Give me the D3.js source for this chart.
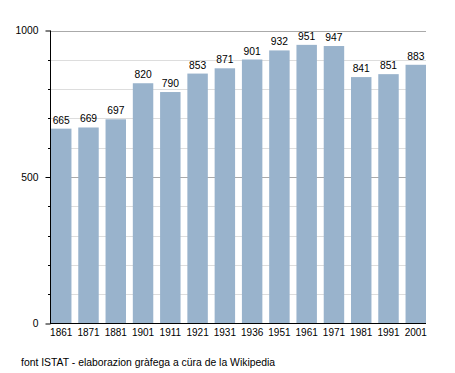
<!DOCTYPE html>
<html><head><meta charset="utf-8">
<script src="https://cdn.jsdelivr.net/npm/d3@7"></script>
<style>body{margin:0;background:#fff}svg{display:block}text{font-family:"Liberation Sans",Arial,sans-serif;font-size:10px;fill:#000}</style>
</head><body><svg id="c" width="455" height="373"></svg>
<script>
const categories = ["1861","1871","1881","1901","1911","1921","1931","1936","1951","1961","1971","1981","1991","2001"];
const values = [665,669,697,820,790,853,871,901,932,951,947,841,851,883];
const yMajorTicks = [0,500,1000];
const yMinorTicks = [100,200,300,400,600,700,800,900];
const footer = "font ISTAT - elaborazion gràfega a cüra de la Wikipedia";

const FONT = "'Liberation Sans',Arial,sans-serif";
const svg = d3.select("#c");
const x = d3.scaleBand().domain(categories).range([51,426]).paddingInner(0.25).paddingOuter(0);
const y = d3.scaleLinear().domain([0,1000]).range([323.5,30.5]);

// grid
svg.append("g").selectAll("line").data(yMinorTicks).join("line")
  .attr("x1",50).attr("x2",426).attr("y1",d=>Math.round(y(d))+0.5).attr("y2",d=>Math.round(y(d))+0.5)
  .attr("stroke","#dddddd").attr("stroke-width",1);
svg.append("g").selectAll("line").data([500,1000]).join("line")
  .attr("x1",50).attr("x2",426).attr("y1",d=>Math.round(y(d))+0.5).attr("y2",d=>Math.round(y(d))+0.5)
  .attr("stroke","#aaaaaa").attr("stroke-width",1);

// bars
svg.append("g").selectAll("rect").data(values).join("rect")
  .attr("x",(d,i)=>x(categories[i])).attr("width",x.bandwidth())
  .attr("y",d=>y(d)).attr("height",d=>y(0)-y(d)).attr("fill","#99b3cc");

// value labels
svg.append("g").selectAll("text").data(values).join("text")
  .attr("x",(d,i)=>x(categories[i])+x.bandwidth()/2).attr("y",d=>y(d)-5)
  .attr("text-anchor","middle").style("font-size","10.3px").text(d=>d);

// y axis
const yAxis = d3.axisLeft(y).tickValues(yMajorTicks).tickSize(5).tickPadding(7).tickFormat(d3.format("d"));
const gy = svg.append("g").attr("transform","translate(50.5,0)").call(yAxis);
gy.select(".domain").remove();
gy.selectAll("text").style("font-size","10.3px").style("font-family",FONT).attr("fill","#000");
gy.selectAll("line").attr("stroke","#000");
svg.append("g").selectAll("line").data(yMinorTicks).join("line")
  .attr("x1",48).attr("x2",50.5).attr("y1",d=>Math.round(y(d))+0.5).attr("y2",d=>Math.round(y(d))+0.5)
  .attr("stroke","#000");
svg.append("line").attr("x1",50.5).attr("x2",50.5).attr("y1",y(1000)).attr("y2",y(0)).attr("stroke","#000");

// x axis
const xAxis = d3.axisBottom(x).tickSize(0).tickPadding(5);
const gx = svg.append("g").attr("transform",`translate(0,${Math.round(y(0))-0.5})`).call(xAxis);
gx.select(".domain").remove();
gx.selectAll("text").style("font-size","10px").style("font-family",FONT).attr("fill","#000");
svg.append("line").attr("x1",50).attr("x2",426).attr("y1",Math.round(y(0))-0.5).attr("y2",Math.round(y(0))-0.5).attr("stroke","#000");

svg.append("text").attr("x",21).attr("y",366).style("font-size","10.4px").text(footer);
</script></body></html>
